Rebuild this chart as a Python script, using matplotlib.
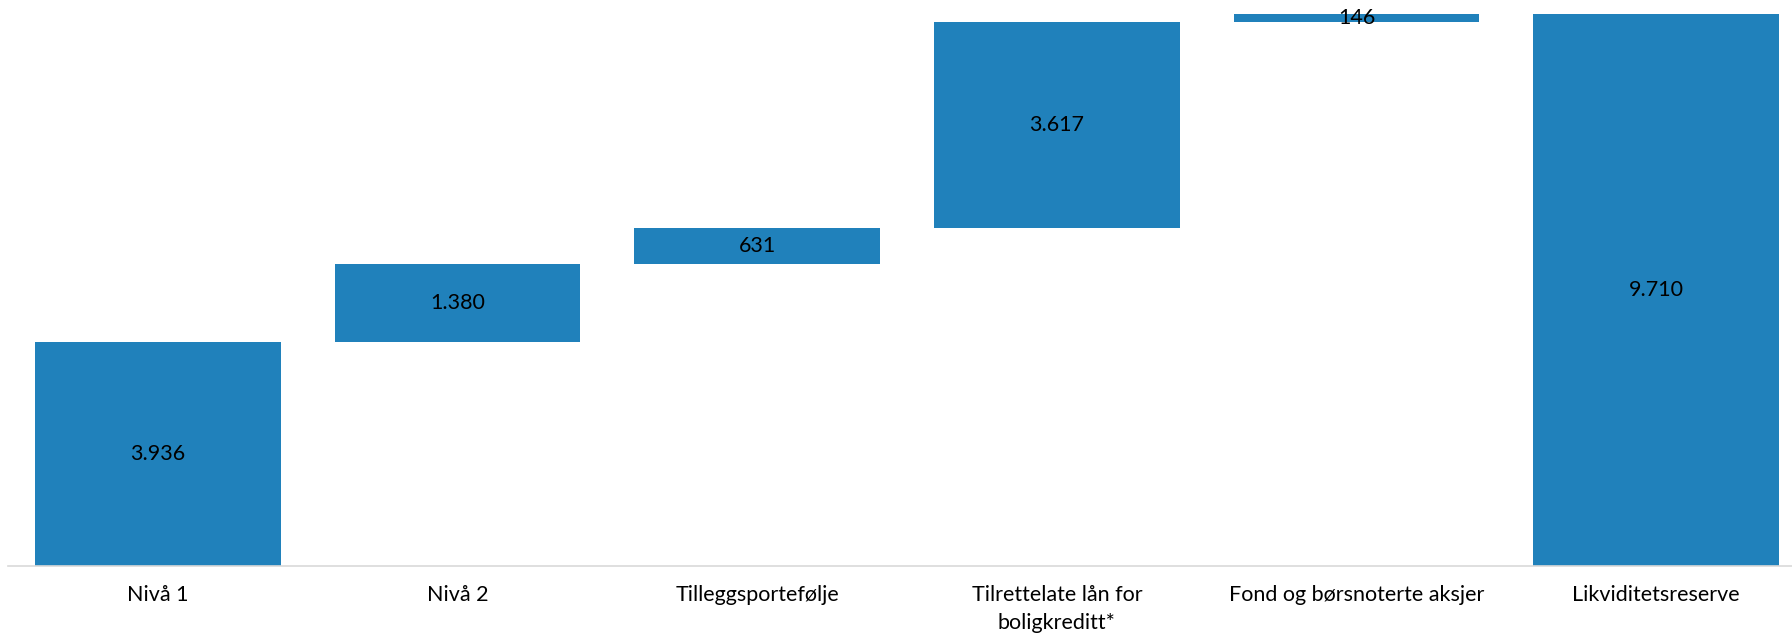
import matplotlib.pyplot as plt
import numpy as np

categories = ["Nivå 1", "Nivå 2", "Tilleggsportefølje", "Tilrettelate lån for\nboligkreditt*",
              "Fond og børsnoterte aksjer", "Likviditetsreserve"]
steps = [3936, 1380, 631, 3617, 146]
total = 9710

plt.rcParams['font.family'] = ['Lato', 'DejaVu Sans']

values = steps + [total]
bottoms = list(np.concatenate([[0], np.cumsum(steps)[:-1]])) + [0]

fig = plt.figure(figsize=(17.92, 6.39), dpi=100)
ax = fig.add_axes([8 / 1792, 73 / 639, 1798 / 1792, 568.5 / 639])

x = np.arange(len(values))
ax.bar(x, values, bottom=bottoms, width=0.82, color="#2081BB")

for xi, v, b in zip(x, values, bottoms):
    txt = f"{v:,}".replace(",", ".")
    ax.text(xi, b + v / 2, txt, ha="center", va="center", fontsize=15.5, color="black")

ax.set_xlim(-0.5, 5.5)
ax.set_ylim(0, 10000)
ax.set_xticks(x)
ax.set_xticklabels(categories, fontsize=15.5, linespacing=1.5)
ax.tick_params(axis="x", length=0, pad=14)
ax.set_yticks([])
for s in ["top", "right", "left"]:
    ax.spines[s].set_visible(False)
ax.spines["bottom"].set_color("#D9D9D9")
ax.spines["bottom"].set_linewidth(1.2)

fig.savefig("out.png", dpi=100)
